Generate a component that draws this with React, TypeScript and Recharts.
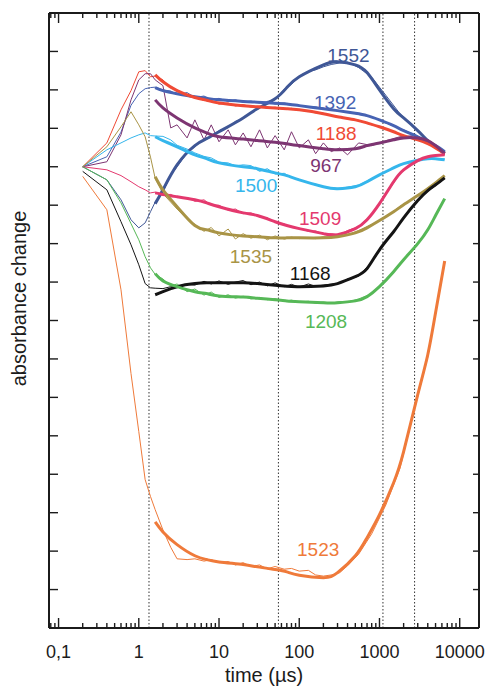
import React from "react";
import { LineChart, Line, XAxis, YAxis, ReferenceLine, ReferenceDot } from "recharts";

// time grids (µs)
const EARLY_T = [0.2, 0.4, 0.6, 0.8, 1.0, 1.2, 1.4];
const LATE_T = [1.6, 2, 2.5, 3, 4, 5, 6.5, 8, 10, 13, 16, 20, 25, 32, 40, 50, 65, 80, 100, 130, 160, 200, 250, 320, 400, 550, 800, 1200, 1800, 2700, 4000, 6500];
const FIT_T = [1.6, 2, 3, 5, 7, 10, 20, 30, 50, 70, 100, 200, 300, 500, 700, 1000, 1500, 2000, 3000, 4000, 5000, 6500];

// raw traces: early transient + measured points
const early1552 = [0, -0.34, -0.86, -1.38, -1.59, -1.46, -1.17];
const late1552 = [-0.92, -0.66, -0.22, 0.0, 0.36, 0.52, 0.72, 0.78, 0.94, 1.02, 1.18, 1.25, 1.42, 1.52, 1.7, 1.74, 2.02, 2.14, 2.36, 2.48, 2.52, 2.6, 2.66, 2.7, 2.72, 2.58, 2.33, 1.86, 1.38, 1.05, 0.7, 0.38];
const early1392 = [0, 0.26, 0.9, 1.6, 1.9, 2.03, 2.06];
const late1392 = [2.07, 2.0, 1.97, 1.88, 1.93, 1.8, 1.84, 1.74, 1.78, 1.7, 1.74, 1.68, 1.71, 1.66, 1.69, 1.63, 1.66, 1.61, 1.6, 1.55, 1.56, 1.5, 1.49, 1.44, 1.43, 1.36, 1.3, 1.14, 1.0, 0.84, 0.66, 0.4];
const early1188 = [0, 0.62, 1.48, 1.98, 2.47, 2.5, 2.34];
const late1188 = [2.36, 2.26, 2.05, 2.0, 1.86, 1.83, 1.72, 1.73, 1.63, 1.66, 1.58, 1.62, 1.55, 1.58, 1.52, 1.55, 1.49, 1.52, 1.47, 1.45, 1.4, 1.39, 1.33, 1.3, 1.25, 1.21, 1.09, 0.99, 0.84, 0.74, 0.61, 0.35];
const early967 = [0, 0.13, 0.83, 1.74, 2.26, 2.42, 2.42];
const late967 = [2.26, 2.11, 1.01, 1.09, 0.75, 1.22, 0.7, 1.09, 0.65, 0.96, 0.57, 0.88, 0.52, 0.96, 0.49, 0.81, 0.44, 0.91, 0.49, 0.7, 0.34, 0.62, 0.39, 0.49, 0.31, 0.62, 0.55, 0.68, 0.78, 0.81, 0.62, 0.31];
const early1500 = [0, 0.44, 0.62, 0.75, 0.83, 0.88, 0.81];
const late1500 = [0.8, 0.79, 0.7, 0.56, 0.46, 0.36, 0.27, 0.23, 0.12, 0.1, 0.02, 0.05, 0.03, -0.12, -0.05, -0.19, -0.17, -0.28, -0.33, -0.42, -0.45, -0.53, -0.54, -0.57, -0.53, -0.48, -0.31, -0.12, 0.06, 0.16, 0.22, 0.2];
const early1509 = [0, -0.08, -0.23, -0.39, -0.52, -0.6, -0.68];
const late1509 = [-0.66, -0.75, -0.72, -0.8, -0.8, -0.9, -0.86, -1.0, -1.0, -1.13, -1.1, -1.22, -1.2, -1.31, -1.33, -1.45, -1.49, -1.58, -1.6, -1.68, -1.67, -1.76, -1.74, -1.77, -1.66, -1.56, -1.24, -0.72, -0.18, 0.12, 0.25, 0.32];
const early1535 = [0, 0.52, 1.04, 1.43, 1.09, 0.78, 0.25];
const late1535 = [-0.3, -0.7, -0.92, -1.1, -1.36, -1.5, -1.68, -1.58, -1.8, -1.62, -1.88, -1.74, -1.86, -1.78, -1.9, -1.8, -1.88, -1.83, -1.87, -1.84, -1.87, -1.82, -1.85, -1.79, -1.77, -1.66, -1.5, -1.31, -1.03, -0.83, -0.55, -0.24];
const early1168 = [-0.12, -0.6, -1.43, -2.03, -2.55, -3.04, -3.15];
const late1168 = [-3.16, -3.17, -3.12, -3.14, -3.06, -3.08, -2.98, -3.05, -2.97, -3.06, -3.0, -2.96, -3.07, -3.0, -3.1, -3.02, -3.12, -3.06, -3.13, -3.05, -3.11, -3.08, -3.05, -3.03, -2.92, -2.85, -2.48, -1.95, -1.46, -0.98, -0.64, -0.31];
const early1208 = [0, -0.34, -0.94, -1.48, -1.9, -2.34, -2.63];
const late1208 = [-2.8, -2.92, -3.1, -3.05, -3.25, -3.18, -3.34, -3.26, -3.4, -3.33, -3.42, -3.37, -3.44, -3.4, -3.46, -3.43, -3.5, -3.47, -3.52, -3.5, -3.55, -3.52, -3.55, -3.51, -3.52, -3.44, -3.3, -2.92, -2.56, -2.09, -1.66, -0.85];
const early1523 = [-0.25, -1.12, -3.2, -5.38, -6.89, -8.14, -8.58];
const late1523 = [-8.92, -9.45, -9.9, -10.2, -10.22, -10.2, -10.26, -10.22, -10.3, -10.27, -10.36, -10.3, -10.4, -10.36, -10.46, -10.4, -10.47, -10.45, -10.52, -10.5, -10.62, -10.65, -10.62, -10.56, -10.38, -10.08, -9.55, -8.8, -7.85, -6.35, -4.95, -2.5];

// fitted curves
const fit1552 = [-0.96, -0.6, 0.05, 0.55, 0.73, 0.91, 1.27, 1.51, 1.77, 2.06, 2.34, 2.65, 2.73, 2.65, 2.45, 2.0, 1.51, 1.27, 0.94, 0.68, 0.52, 0.36];
const fit1392 = [2.06, 1.98, 1.9, 1.82, 1.78, 1.74, 1.7, 1.68, 1.65, 1.63, 1.59, 1.51, 1.46, 1.39, 1.33, 1.22, 1.07, 0.94, 0.78, 0.65, 0.55, 0.39];
const fit1188 = [2.39, 2.21, 1.98, 1.8, 1.73, 1.66, 1.59, 1.56, 1.53, 1.51, 1.48, 1.38, 1.3, 1.22, 1.14, 1.04, 0.91, 0.81, 0.7, 0.6, 0.49, 0.34];
const fit967 = [1.74, 1.53, 1.27, 1.01, 0.88, 0.78, 0.72, 0.68, 0.64, 0.6, 0.55, 0.47, 0.44, 0.47, 0.55, 0.62, 0.7, 0.75, 0.75, 0.68, 0.55, 0.34];
const fit1500 = [0.78, 0.68, 0.52, 0.31, 0.21, 0.1, 0.0, -0.05, -0.16, -0.23, -0.34, -0.52, -0.57, -0.52, -0.39, -0.21, -0.03, 0.08, 0.17, 0.21, 0.21, 0.18];
const fit1509 = [-0.68, -0.72, -0.78, -0.86, -0.94, -1.04, -1.2, -1.27, -1.43, -1.53, -1.61, -1.74, -1.77, -1.61, -1.38, -0.96, -0.39, -0.08, 0.16, 0.26, 0.29, 0.31];
const fit1535 = [-0.26, -0.6, -1.04, -1.53, -1.64, -1.72, -1.8, -1.82, -1.85, -1.85, -1.85, -1.85, -1.82, -1.72, -1.59, -1.4, -1.17, -0.99, -0.75, -0.57, -0.42, -0.23];
const fit1168 = [-3.33, -3.25, -3.12, -3.04, -3.02, -3.02, -3.02, -3.04, -3.08, -3.11, -3.12, -3.1, -3.04, -2.86, -2.65, -2.16, -1.69, -1.33, -0.88, -0.62, -0.47, -0.29];
const fit1208 = [-2.78, -2.97, -3.12, -3.25, -3.3, -3.36, -3.39, -3.42, -3.46, -3.49, -3.51, -3.54, -3.54, -3.49, -3.38, -3.12, -2.73, -2.42, -2.0, -1.64, -1.27, -0.83];
const fit1523 = [-9.24, -9.5, -9.83, -10.12, -10.22, -10.28, -10.35, -10.41, -10.48, -10.54, -10.63, -10.69, -10.56, -10.12, -9.65, -9.05, -8.22, -7.41, -5.93, -4.89, -3.8, -2.45];

// axes
const X_DOMAIN = [0.076, 17400];
const X_MAJOR = [0.1, 1, 10, 100, 1000, 10000];
const X_LABELS = ["0,1", "1", "10", "100", "1000", "10000"];
const X_TICKS = [0.08, 0.09, 0.1, 0.2, 0.3, 0.4, 0.5, 0.6, 0.7, 0.8, 0.9, 1, 2, 3, 4, 5, 6, 7, 8, 9, 10, 20, 30, 40, 50, 60, 70, 80, 90, 100, 200, 300, 400, 500, 600, 700, 800, 900, 1000, 2000, 3000, 4000, 5000, 6000, 7000, 8000, 9000, 10000];
const Y_TICKS = [-12, -11, -10, -9, -8, -7, -6, -5, -4, -3, -2, -1, 0, 1, 2, 3, 4];
const MARKERS = [1.34, 55, 1105, 2740];

const INK = "#1b1b1b";
const FONT = "'Liberation Sans', Arial, Helvetica, sans-serif";

const series = [
  { name: "1552", color: "#3f5796", early: early1552, late: late1552, fit: fit1552, at: [410, 2.91] },
  { name: "1392", color: "#4763b3", early: early1392, late: late1392, fit: fit1392, at: [280, 1.69] },
  { name: "1188", color: "#f04a35", early: early1188, late: late1188, fit: fit1188, at: [288, 0.88] },
  { name: "967", color: "#7d3572", early: early967, late: late967, fit: fit967, at: [216, 0.05] },
  { name: "1500", color: "#35b6ec", early: early1500, late: late1500, fit: fit1500, at: [29, -0.47] },
  { name: "1509", color: "#e4396e", early: early1509, late: late1509, fit: fit1509, at: [182, -1.33] },
  { name: "1535", color: "#a99446", early: early1535, late: late1535, fit: fit1535, at: [25, -2.32] },
  { name: "1168", color: "#141414", early: early1168, late: late1168, fit: fit1168, at: [137, -2.76] },
  { name: "1208", color: "#56b857", early: early1208, late: late1208, fit: fit1208, at: [216, -4.03] },
  { name: "1523", color: "#ef7a3a", early: early1523, late: late1523, fit: fit1523, at: [172, -9.96] },
];

const rows = (ts: number[], vs: number[]) => ts.map((t, i) => ({ t, v: vs[i] }));
const majorIndex = (v: number) => X_MAJOR.findIndex((m) => Math.abs(m - v) / m < 1e-6);

const BottomTick = (p: any) => {
  const idx = majorIndex(p.payload.value);
  return (
    <g>
      <line x1={p.x} x2={p.x} y1={p.y} y2={p.y - (idx >= 0 ? 10 : 5)} stroke={INK} strokeWidth={1.4} />
      {idx >= 0 && (
        <text x={p.x} y={p.y + 30} textAnchor="middle" fontSize={18} fill={INK} fontFamily={FONT}>
          {X_LABELS[idx]}
        </text>
      )}
    </g>
  );
};

const TopTick = (p: any) => {
  const major = majorIndex(p.payload.value) >= 0;
  return <line x1={p.x} x2={p.x} y1={p.y} y2={p.y + (major ? 10 : 5)} stroke={INK} strokeWidth={1.4} />;
};

const LeftTick = (p: any) => <line x1={p.x} x2={p.x + 9} y1={p.y} y2={p.y} stroke={INK} strokeWidth={1.4} />;
const RightTick = (p: any) => <line x1={p.x} x2={p.x - 6} y1={p.y} y2={p.y} stroke={INK} strokeWidth={1.4} />;

export default function App() {
  const frame = { stroke: INK, strokeWidth: 2 };
  return (
    <div style={{ position: "absolute", left: 0, top: 0, width: 489, height: 690, background: "#fff" }}>
      <LineChart width={489} height={690} margin={{ top: 12, right: 9, bottom: 61, left: 48 }} style={{ fontFamily: FONT }}>
        <XAxis
          xAxisId="b"
          dataKey="t"
          type="number"
          scale="log"
          domain={X_DOMAIN}
          allowDataOverflow
          ticks={X_TICKS}
          interval={0}
          height={1}
          tickSize={0}
          tickMargin={0}
          tickLine={false}
          tick={(p: any) => <BottomTick {...p} />}
          axisLine={frame}
          label={{ value: "time (µs)", position: "bottom", offset: 39, fontSize: 20, fill: INK }}
        />
        <XAxis
          xAxisId="top"
          orientation="top"
          dataKey="t"
          type="number"
          scale="log"
          domain={X_DOMAIN}
          allowDataOverflow
          ticks={X_TICKS}
          interval={0}
          height={1}
          tickSize={0}
          tickMargin={0}
          tickLine={false}
          tick={(p: any) => <TopTick {...p} />}
          axisLine={frame}
        />
        <YAxis
          yAxisId="l"
          type="number"
          domain={[-12, 4]}
          allowDataOverflow
          ticks={Y_TICKS}
          interval={0}
          width={1}
          tickSize={0}
          tickMargin={0}
          tickLine={false}
          tick={(p: any) => <LeftTick {...p} />}
          axisLine={frame}
          label={{ value: "absorbance change", angle: -90, position: "center", dx: -30, dy: -22, fontSize: 20, fill: INK }}
        />
        <YAxis
          yAxisId="r"
          orientation="right"
          type="number"
          domain={[-12, 4]}
          allowDataOverflow
          ticks={Y_TICKS}
          interval={0}
          width={1}
          tickSize={0}
          tickMargin={0}
          tickLine={false}
          tick={(p: any) => <RightTick {...p} />}
          axisLine={frame}
        />

        {MARKERS.map((m) => (
          <ReferenceLine key={m} x={m} xAxisId="b" yAxisId="l" stroke="#333" strokeWidth={1} strokeDasharray="1.5 2" />
        ))}

        {series.map((s) => (
          <Line
            key={"raw" + s.name}
            xAxisId="b"
            yAxisId="l"
            data={rows([...EARLY_T, ...LATE_T], [...s.early, ...s.late])}
            dataKey="v"
            type="linear"
            stroke={s.color}
            strokeWidth={1}
            dot={false}
            isAnimationActive={false}
          />
        ))}
        {series.map((s) => (
          <Line
            key={"fit" + s.name}
            xAxisId="b"
            yAxisId="l"
            data={rows(FIT_T, s.fit)}
            dataKey="v"
            type="natural"
            stroke={s.color}
            strokeWidth={3}
            dot={false}
            isAnimationActive={false}
          />
        ))}
        {series.map((s) => (
          <ReferenceDot
            key={"lab" + s.name}
            xAxisId="b"
            yAxisId="l"
            x={s.at[0]}
            y={s.at[1]}
            r={0}
            fill="none"
            stroke="none"
            label={{ value: s.name, position: "center", fill: s.color, fontSize: 19 }}
          />
        ))}
      </LineChart>
    </div>
  );
}
